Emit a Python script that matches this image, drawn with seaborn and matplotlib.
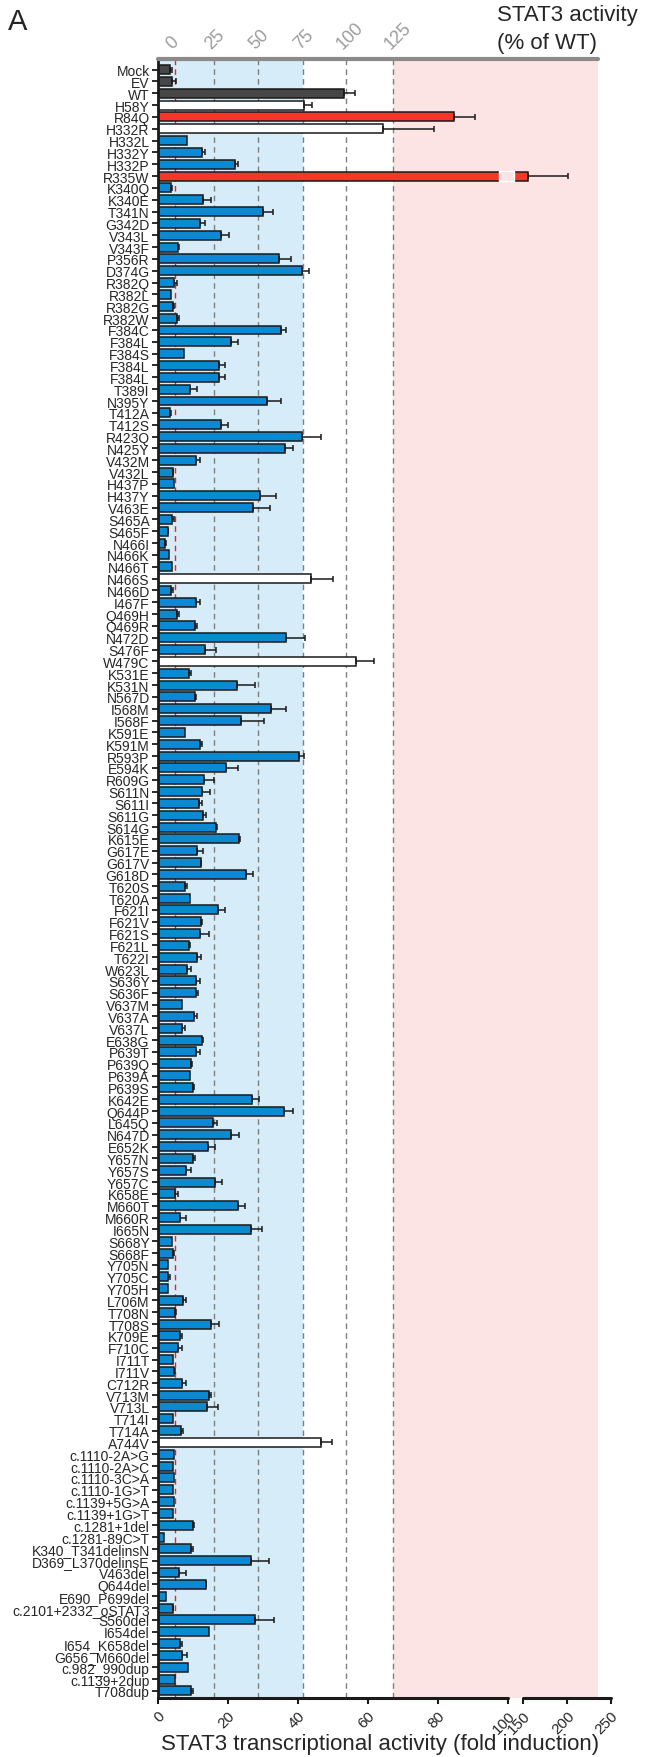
import numpy as np
import pandas as pd
import matplotlib
matplotlib.use("Agg")
import matplotlib.pyplot as plt
import seaborn as sns

# data (fold induction, upper error bar length)
variants = [
    "Mock", "EV", "WT", "H58Y", "R84Q", "H332R", "H332L", "H332Y", "H332P", "R335W",
    "K340Q", "K340E", "T341N", "G342D", "V343L", "V343F", "P356R", "D374G", "R382Q", "R382L",
    "R382G", "R382W", "F384C", "F384L", "F384S", "F384L", "F384L", "T389I", "N395Y", "T412A",
    "T412S", "R423Q", "N425Y", "V432M", "V432L", "H437P", "H437Y", "V463E", "S465A", "S465F",
    "N466I", "N466K", "N466T", "N466S", "N466D", "I467F", "Q469H", "Q469R", "N472D", "S476F",
    "W479C", "K531E", "K531N", "N567D", "I568M", "I568F", "K591E", "K591M", "R593P", "E594K",
    "R609G", "S611N", "S611I", "S611G", "S614G", "K615E", "G617E", "G617V", "G618D", "T620S",
    "T620A", "F621I", "F621V", "F621S", "F621L", "T622I", "W623L", "S636Y", "S636F", "V637M",
    "V637A", "V637L", "E638G", "P639T", "P639Q", "P639A", "P639S", "K642E", "Q644P", "L645Q",
    "N647D", "E652K", "Y657N", "Y657S", "Y657C", "K658E", "M660T", "M660R", "I665N", "S668Y",
    "S668F", "Y705N", "Y705C", "Y705H", "L706M", "T708N", "T708S", "K709E", "F710C", "I711T",
    "I711V", "C712R", "V713M", "V713L", "T714I", "T714A", "A744V", "c.1110-2A>G", "c.1110-2A>C",
    "c.1110-3C>A", "c.1110-1G>T", "c.1139+5G>A", "c.1139+1G>T", "c.1281+1del", "c.1281-89C>T",
    "K340_T341delinsN", "D369_L370delinsE", "V463del", "Q644del", "E690_P699del",
    "c.2101+2332_oSTAT3", "S560del", "I654del", "I654_K658del", "G656_M660del",
    "c.982_990dup", "c.1139+2dup", "T708dup",
]

fold = [
    3.5, 4.1, 53.3, 41.7, 84.6, 64.3, 8.2, 12.7, 22.1, 155.0,
    3.8, 13.0, 30.1, 12.1, 17.9, 5.7, 34.7, 41.1, 4.6, 3.8,
    4.3, 5.3, 35.3, 20.9, 7.5, 17.3, 17.3, 9.1, 31.2, 3.3,
    17.9, 41.2, 36.3, 10.8, 4.2, 4.7, 29.3, 27.2, 4.0, 2.8,
    2.1, 3.2, 3.9, 43.7, 3.8, 11.0, 5.3, 10.5, 36.5, 13.3,
    56.6, 8.8, 22.5, 10.6, 32.3, 23.7, 7.8, 11.9, 40.3, 19.3,
    13.1, 12.7, 11.6, 13.0, 16.6, 23.2, 11.1, 12.2, 25.3, 7.8,
    9.2, 17.2, 12.4, 12.0, 8.9, 11.2, 8.3, 10.8, 10.8, 6.8,
    10.2, 6.8, 12.7, 11.0, 9.4, 9.1, 9.9, 26.8, 35.9, 15.6,
    21.0, 14.2, 10.0, 8.1, 16.4, 4.9, 23.0, 6.4, 26.7, 4.1,
    4.3, 2.8, 3.0, 2.8, 7.2, 4.8, 15.2, 6.4, 5.8, 4.2,
    4.6, 7.0, 14.6, 13.9, 4.3, 6.6, 46.7, 4.7, 4.4,
    4.7, 4.4, 4.7, 4.4, 9.9, 1.6,
    9.3, 26.6, 6.0, 13.6, 2.4,
    4.2, 27.7, 14.5, 6.3, 7.0,
    8.6, 4.8, 9.4,
]

sem = [
    0.4, 1.0, 3.1, 2.4, 5.9, 14.5, 0.0, 0.7, 0.7, 46.0,
    0.3, 2.1, 2.7, 1.2, 2.5, 0.4, 3.2, 2.1, 0.9, 0.0,
    0.2, 0.6, 1.2, 2.1, 0.0, 1.8, 1.8, 2.1, 4.1, 0.4,
    2.1, 5.5, 2.4, 1.3, 0.2, 0.0, 4.5, 4.8, 0.6, 0.1,
    0.3, 0.0, 0.0, 6.4, 0.6, 1.1, 0.8, 0.6, 5.5, 3.4,
    5.2, 0.6, 5.3, 0.2, 4.3, 6.5, 0.0, 0.7, 1.4, 3.7,
    2.9, 2.3, 1.1, 0.6, 0.2, 0.2, 1.8, 0.2, 2.0, 0.4,
    0.0, 2.0, 0.2, 2.6, 0.2, 1.1, 1.1, 1.1, 0.5, 0.0,
    1.0, 1.0, 0.3, 1.1, 0.3, 0.0, 0.3, 2.2, 2.8, 1.4,
    2.2, 2.1, 0.6, 1.3, 1.8, 0.9, 2.0, 1.5, 3.1, 0.0,
    0.3, 0.0, 0.4, 0.0, 0.9, 0.4, 2.1, 0.4, 1.1, 0.0,
    0.4, 1.0, 0.5, 3.2, 0.0, 0.5, 3.0, 0.0, 0.0,
    0.0, 0.0, 0.0, 0.0, 0.3, 0.0,
    0.6, 5.1, 2.0, 0.2, 0.0,
    0.1, 5.5, 0.0, 0.7, 1.3,
    0.0, 0.0, 0.5,
]

controls = ["Mock", "EV", "WT"]
wt_like = ["H58Y", "H332R", "N466S", "W479C", "A744V"]
gof = ["R84Q", "R335W"]

# top axis: % of WT reference lines (fold values)
pct_pos = [4.9, 16.1, 28.5, 41.4, 53.7, 67.2]
pct_labels = ["0", "25", "50", "75", "100", "125"]
pink_end = 234.8
bottom_ticks = [0, 20, 40, 60, 80, 100, 150, 200, 250]

palette = {"control": "#474747", "wt_like": "#ffffff", "gof": "#f5372a", "lof": "#0a8ad2"}

# broken x axis: 0-100 linear, 100-150 squeezed into a gap, 150-250 compressed
GAP = 4.46
K = 0.2506


def fwd(x):
    x = np.asarray(x, dtype=float)
    return np.where(x <= 100, x,
                    np.where(x < 150, 100 + (x - 100) * GAP / 50,
                             100 + GAP + (x - 150) * K))


def inv(y):
    y = np.asarray(y, dtype=float)
    return np.where(y <= 100, y,
                    np.where(y < 100 + GAP, 100 + (y - 100) * 50 / GAP,
                             150 + (y - 100 - GAP) / K))


def group_of(v):
    if v in controls:
        return "control"
    if v in wt_like:
        return "wt_like"
    if v in gof:
        return "gof"
    return "lof"


n = len(variants)
df = pd.DataFrame({
    "row": np.arange(n),
    "variant": variants,
    "fold": fold,
    "sem": sem,
    "group": [group_of(v) for v in variants],
})

sns.set_style("white")
plt.rcParams["font.family"] = ["Liberation Sans", "DejaVu Sans"]

fig = plt.figure(figsize=(6.46, 17.58), dpi=100)
ax = fig.add_axes([158 / 646, 1 - 1699 / 1758, 453 / 646, 1639 / 1758])
ax.set_xscale("function", functions=(fwd, inv))

sns.barplot(data=df, x="fold", y="row", hue="group", palette=palette, orient="h",
            dodge=False, width=0.76, saturation=1, edgecolor="#1a1a1a", linewidth=1.1,
            errorbar=None, legend=False, ax=ax, zorder=2)

err = df[df["sem"] > 0]
ax.errorbar(err["fold"], err["row"], xerr=[np.zeros(len(err)), err["sem"]],
            fmt="none", ecolor="#1a1a1a", elinewidth=1.1, capsize=2.2, capthick=1.1, zorder=3)

# break in the R335W bar
r335 = variants.index("R335W")
ax.barh(r335, 24, left=97.6, height=0.9, color="#fde4e4", zorder=4)

# shaded zones and reference lines
ax.axvspan(0, pct_pos[3], color="#d6ecf8", zorder=0, lw=0)
ax.axvspan(pct_pos[5], pink_end, color="#fde4e4", zorder=0, lw=0)
for p in pct_pos[1:]:
    ax.axvline(p, color="#7f7f7f", ls=(0, (4, 3)), lw=1.0, zorder=1)
ax.axvline(pct_pos[0], color="#ff1a1a", ls=(0, (4, 3)), lw=1.0, zorder=1)

ax.set_xlim(0, 250)
ax.set_ylim(n - 0.4, -0.9)
ax.set_yticks(np.arange(n))
ax.set_yticklabels(variants, fontsize=10)
ax.tick_params(axis="y", length=4, width=1.3, color="#1a1a1a", pad=2, left=True)

ax.set_xticks(bottom_ticks)
ax.set_xticklabels([str(t) for t in bottom_ticks], fontsize=11, rotation=45,
                   ha="right", rotation_mode="anchor")
ax.tick_params(axis="x", length=4, width=1.5, color="#1a1a1a", pad=3, bottom=True)
ax.set_xlabel("STAT3 transcriptional activity (fold induction)", fontsize=16, labelpad=6)
ax.xaxis.set_label_coords(0.49, -0.0215)
ax.set_ylabel("")

for side in ["top", "right", "bottom"]:
    ax.spines[side].set_visible(False)
ax.spines["left"].set_linewidth(2)
ax.spines["left"].set_color("#1a1a1a")

# broken bottom axis line and grey top line
xt = ax.get_xaxis_transform()
ax.plot([0, 100], [0, 0], transform=xt, color="#1a1a1a", lw=2.2, clip_on=False, zorder=5)
ax.plot([150, 250], [0, 0], transform=xt, color="#1a1a1a", lw=2.2, clip_on=False, zorder=5)
ax.plot([0, pink_end], [1, 1], transform=xt, color="#8a8a8a", lw=3, clip_on=False, zorder=5)

# top axis with % of WT
axt = ax.twiny()
axt.set_xscale("function", functions=(fwd, inv))
axt.set_xlim(0, 250)
axt.set_xticks(pct_pos)
axt.set_xticklabels(pct_labels, fontsize=13, rotation=45, ha="left",
                    rotation_mode="anchor", color="#9c9c9c")
axt.tick_params(axis="x", length=0, pad=5)
for side in axt.spines:
    axt.spines[side].set_visible(False)

fig.text(497 / 646, 1 - 16 / 1758, "STAT3 activity", fontsize=16, ha="left", va="center")
fig.text(497 / 646, 1 - 43 / 1758, "(% of WT)", fontsize=16, ha="left", va="center")
fig.text(8 / 646, 1 - 22 / 1758, "A", fontsize=21, ha="left", va="center")

fig.savefig("out.png", dpi=100)
